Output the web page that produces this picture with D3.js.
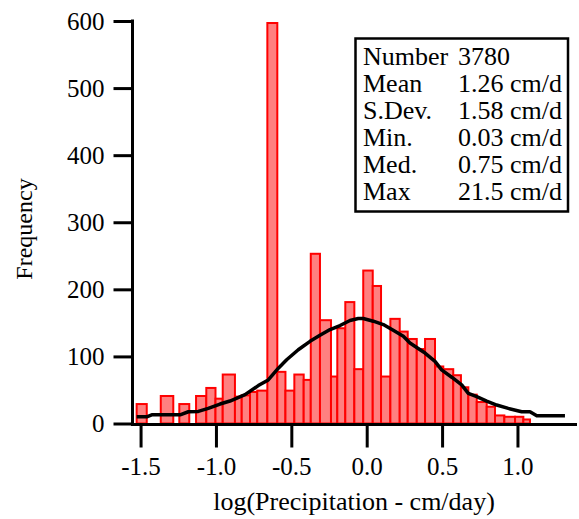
<!DOCTYPE html>
<html>
<head>
<meta charset="utf-8">
<script src="https://cdn.jsdelivr.net/npm/d3@7"></script>
<style>
  html, body { margin: 0; padding: 0; background: #fff; }
  svg { display: block; }
  text { font-family: "Liberation Serif", "Times New Roman", serif; fill: #000; }
</style>
</head>
<body>
<div id="chart"></div>
<script>
// ---- data ----
// histogram bins in log10(precipitation, cm/day)
const binStart = [-1.526, -1.366, -1.243, -1.132, -1.064, -1.003, -0.955, -0.874, -0.829, -0.774,
                  -0.726, -0.659, -0.593, -0.539, -0.480, -0.418, -0.371, -0.310, -0.237, -0.195,
                  -0.142, -0.082, -0.023, 0.040, 0.095, 0.157, 0.219, 0.272, 0.332, 0.387,
                  0.453, 0.508, 0.574, 0.625, 0.674, 0.730, 0.796, 0.851, 0.913, 0.984, 1.039];
const binEnd   = [-1.459, -1.283, -1.177, -1.064, -1.003, -0.955, -0.874, -0.829, -0.774, -0.726,
                  -0.659, -0.593, -0.539, -0.480, -0.418, -0.371, -0.310, -0.237, -0.195, -0.142,
                  -0.082, -0.023, 0.040, 0.095, 0.157, 0.219, 0.272, 0.332, 0.387, 0.453,
                  0.508, 0.574, 0.625, 0.674, 0.730, 0.796, 0.851, 0.913, 0.984, 1.039, 1.083];
const counts   = [29, 41, 29, 41, 53, 37, 73, 40, 42, 47,
                  49, 597, 77, 49, 73, 65, 253, 154, 70, 142,
                  181, 81, 228, 205, 70, 156, 137, 126, 111, 126,
                  85, 81, 72, 54, 43, 32, 25, 12, 10, 10, 6];

// fitted curve
const fitX = [-1.526, -1.459, -1.426, -1.238, -1.183, -1.117, -1.051, -0.973, -0.907, -0.807,
              -0.719, -0.653, -0.586, -0.531, -0.454, -0.376, -0.310, -0.243, -0.177, -0.111,
              -0.056, -0.023, 0.044, 0.110, 0.176, 0.243, 0.287, 0.354, 0.387, 0.453,
              0.497, 0.564, 0.630, 0.674, 0.730, 0.796, 0.862, 0.939, 1.028, 1.083, 1.128, 1.315];
const fitY = [10, 10, 13, 13, 17.5, 18, 22.5, 29, 33.5, 43,
              56.5, 65, 82.5, 95, 110, 122.5, 131.5, 140, 146, 153.5,
              156.5, 156.5, 152.5, 147.5, 139, 130, 120, 110, 105, 92.5,
              80, 69, 57.5, 45, 40, 33.5, 27.5, 22.5, 17.5, 17.5, 11.5, 11.5];

const xTicks = [-1.5, -1.0, -0.5, 0.0, 0.5, 1.0];
const xTickLabels = ["-1.5", "-1.0", "-0.5", "0.0", "0.5", "1.0"];
const yTicks = [0, 100, 200, 300, 400, 500, 600];
const yTickLabels = ["0", "100", "200", "300", "400", "500", "600"];

const statNames  = ["Number", "Mean", "S.Dev.", "Min.", "Med.", "Max"];
const statValues = ["3780", "1.26 cm/d", "1.58 cm/d", "0.03 cm/d", "0.75 cm/d", "21.5 cm/d"];

const xTitle = "log(Precipitation - cm/day)";
const yTitle = "Frequency";

// ---- layout ----
const W = 579, H = 519;
const svg = d3.select("#chart").append("svg").attr("width", W).attr("height", H);

const x = d3.scaleLinear().domain([-1.5535, 1.3949]).range([132.5, 577]);
const y = d3.scaleLinear().domain([0, 600]).range([423.5, 21]);

// bars
const bins = counts.map((c, i) => ({ lo: binStart[i], hi: binEnd[i], c }));
svg.append("g").selectAll("rect").data(bins).join("rect")
  .attr("x", d => x(d.lo))
  .attr("width", d => x(d.hi) - x(d.lo))
  .attr("y", d => y(d.c))
  .attr("height", d => y(0) - y(d.c))
  .attr("fill", "#ff8080")
  .attr("stroke", "#ff0000")
  .attr("stroke-width", 2);

// fitted curve
const line = d3.line().x(d => x(d[0])).y(d => y(d[1]));
svg.append("path")
  .datum(fitX.map((v, i) => [v, fitY[i]]))
  .attr("d", line)
  .attr("fill", "none")
  .attr("stroke", "#000")
  .attr("stroke-width", 3.5)
  .attr("stroke-linejoin", "round");

// axes
const xAxisY = 424.5;
const xAxis = d3.axisBottom(x).tickValues(xTicks)
  .tickFormat((d, i) => xTickLabels[i]).tickSize(23).tickSizeOuter(0).tickPadding(10);
const gx = svg.append("g").attr("transform", `translate(0,${xAxisY})`).call(xAxis);
gx.select(".domain").remove();
gx.selectAll(".tick line").attr("stroke", "#000").attr("stroke-width", 3);
gx.selectAll(".tick text").attr("font-size", 25).attr("font-family", "Liberation Serif").attr("fill", "#000");

const yAxisX = 132.5;
const yAxis = d3.axisLeft(y).tickValues(yTicks)
  .tickFormat((d, i) => yTickLabels[i]).tickSize(19).tickSizeOuter(0).tickPadding(9);
const gy = svg.append("g").attr("transform", `translate(${yAxisX},0)`).call(yAxis);
gy.select(".domain").remove();
gy.selectAll(".tick line").attr("stroke", "#000").attr("stroke-width", 3);
gy.selectAll(".tick text").attr("font-size", 25).attr("font-family", "Liberation Serif").attr("fill", "#000");

// axis lines
svg.append("line")
  .attr("x1", yAxisX).attr("x2", yAxisX)
  .attr("y1", y(600) - 1.5).attr("y2", xAxisY + 1.5)
  .attr("stroke", "#000").attr("stroke-width", 3);
svg.append("line")
  .attr("x1", yAxisX - 1.5).attr("x2", 577)
  .attr("y1", xAxisY).attr("y2", xAxisY)
  .attr("stroke", "#000").attr("stroke-width", 3);

// titles
svg.append("text")
  .attr("x", 354).attr("y", 510)
  .attr("text-anchor", "middle")
  .attr("font-size", 26)
  .text(xTitle);
svg.append("text")
  .attr("transform", "translate(32,229) rotate(-90)")
  .attr("text-anchor", "middle")
  .attr("font-size", 24)
  .text(yTitle);

// stats box
const box = svg.append("g");
box.append("rect")
  .attr("x", 355.5).attr("y", 38.5).attr("width", 212.5).attr("height", 173)
  .attr("fill", "#fff").attr("stroke", "#000").attr("stroke-width", 2.5);
statNames.forEach((n, i) => {
  box.append("text").attr("x", 363).attr("y", 64.5 + 27 * i).attr("font-size", 26).text(n);
  box.append("text").attr("x", 458).attr("y", 64.5 + 27 * i).attr("font-size", 26).text(statValues[i]);
});
</script>
</body>
</html>
